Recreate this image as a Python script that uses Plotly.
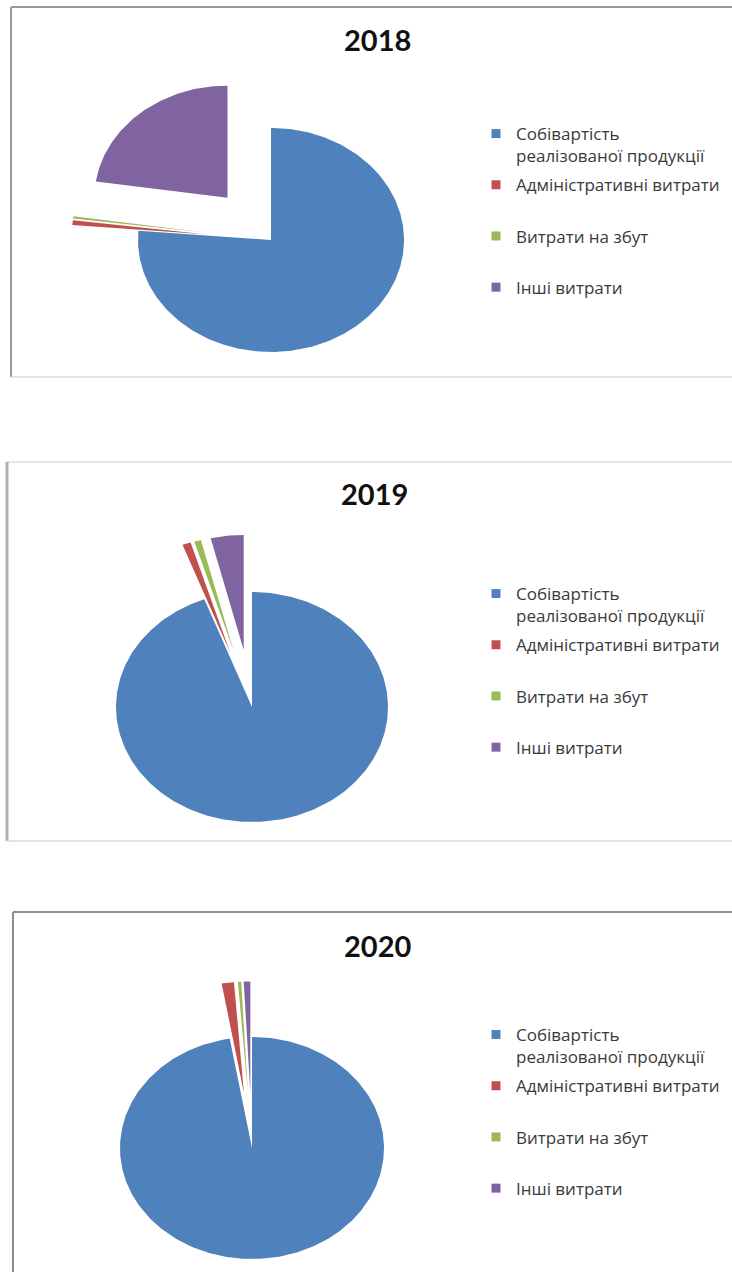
import numpy as np
import plotly.graph_objects as go

# ---- data -----------------------------------------------------------------
years = ["2018", "2019", "2020"]
categories = [
    "Собівартість реалізованої продукції",
    "Адміністративні витрати",
    "Витрати на збут",
    "Інші витрати",
]
# legend wording (the first entry wraps onto two lines)
legend_labels = [
    "Собівартість<br>реалізованої продукції",
    "Адміністративні витрати",
    "Витрати на збут",
    "Інші витрати",
]
# structure of expenses, % of total
shares_2018 = [76.3, 0.7, 0.3, 22.7]
shares_2019 = [94.3, 1.0, 0.8, 3.9]
shares_2020 = [97.3, 1.5, 0.4, 0.8]
shares_by_year = [shares_2018, shares_2019, shares_2020]

# ---- styling --------------------------------------------------------------
colors = ["#4F81BD", "#C0504D", "#9BBB59", "#8064A2"]
explode = [0.0, 0.5, 0.5, 0.5]          # fraction of the radius each slice is pulled out

W, H = 732, 1272

# per-chart geometry in pixels: ellipse centre and radii, vertical band,
# title centre and legend top
charts = [
    dict(cx=271, cy=240, rx=133, ry=112, band=(0, 425), title=(377, 40), legend_top=116, legend_x=476),
    dict(cx=252, cy=707, rx=136, ry=115, band=(445, 885), title=(375, 494), legend_top=576, legend_x=476),
    dict(cx=252, cy=1148, rx=132, ry=111, band=(895, 1272), title=(377, 945), legend_top=1017, legend_x=476),
]


def px_x(x):
    return x / W


def px_y(y):
    return 1 - y / H


def wedge(values, i, pull, n=360):
    """Outline of slice i of a pie on the unit circle, clockwise from 12 o'clock."""
    total = float(sum(values))
    start = sum(values[:i]) / total
    end = sum(values[: i + 1]) / total
    a0 = np.pi / 2 - 2 * np.pi * start
    a1 = np.pi / 2 - 2 * np.pi * end
    mid = (a0 + a1) / 2
    ox, oy = pull * np.cos(mid), pull * np.sin(mid)
    t = np.linspace(a0, a1, max(4, int(n * (end - start)) + 3))
    xs = np.concatenate([[ox], ox + np.cos(t), [ox]])
    ys = np.concatenate([[oy], oy + np.sin(t), [oy]])
    return xs, ys


fig = go.Figure()
layout = dict(
    width=W,
    height=H,
    margin=dict(l=0, r=0, t=0, b=0),
    paper_bgcolor="white",
    plot_bgcolor="white",
    showlegend=True,
    annotations=[],
    shapes=[],
)

for k, (year, shares, g) in enumerate(zip(years, shares_by_year, charts)):
    sfx = "" if k == 0 else str(k + 1)
    xa, ya = "x" + sfx, "y" + sfx
    leg = "legend" + sfx

    top, bot = g["band"]
    # axes scaled so that the unit circle becomes an rx x ry ellipse
    layout["xaxis" + sfx] = dict(
        domain=[0, 1], range=[-g["cx"] / g["rx"], (W - g["cx"]) / g["rx"]],
        visible=False, fixedrange=True, anchor=ya,
    )
    layout["yaxis" + sfx] = dict(
        domain=[px_y(bot), px_y(top)],
        range=[-(bot - g["cy"]) / g["ry"], (g["cy"] - top) / g["ry"]],
        visible=False, fixedrange=True, anchor=xa,
    )

    for i, (cat, col) in enumerate(zip(categories, colors)):
        xs, ys = wedge(shares, i, explode[i])
        fig.add_trace(go.Scatter(
            x=xs, y=ys, xaxis=xa, yaxis=ya,
            mode="lines", line=dict(width=0, color=col),
            fill="toself", fillcolor=col,
            name=cat, showlegend=False,
            hoveron="fills", hoverinfo="text",
            text=f"{cat}: {shares[i]:.1f}%",
        ))

    # legend entries with square swatches
    for i, (lab, col) in enumerate(zip(legend_labels, colors)):
        text = lab if "<br>" in lab else lab + "<br>\u00a0"
        fig.add_trace(go.Scatter(
            x=[None], y=[None], xaxis=xa, yaxis=ya,
            mode="markers", marker=dict(symbol="square", size=9, color=col),
            name=text, legend=leg, legendgroup=f"{year}-{i}",
            showlegend=True, hoverinfo="skip",
        ))

    layout[leg] = dict(
        x=px_x(g["legend_x"]), y=px_y(g["legend_top"]),
        xanchor="left", yanchor="top",
        bgcolor="rgba(0,0,0,0)", borderwidth=0,
        font=dict(family="Open Sans", size=17, color="#3a3a3a"),
        valign="top", traceorder="grouped", tracegroupgap=4,
        itemclick=False, itemdoubleclick=False,
    )

    tx, ty = g["title"]
    layout["annotations"].append(dict(
        text=year, x=px_x(tx), y=px_y(ty), xref="paper", yref="paper",
        xanchor="center", yanchor="middle", showarrow=False,
        font=dict(family="Lato", size=29, color="#111111", weight="bold"),
    ))

# chart-area frames
frame_lines = [
    # 2018
    (11, 7, W + 5, 7, "#9a9a9a", 2),
    (11, 7, 11, 377, "#9a9a9a", 2),
    (11, 377, W + 5, 377, "#d9d9d9", 1.5),
    # 2019
    (7, 462, W + 5, 462, "#dcdcdc", 1.5),
    (7, 462, 7, 841, "#b0b0b0", 3),
    (7, 841, W + 5, 841, "#d9d9d9", 1.5),
    # 2020
    (13, 912, W + 5, 912, "#8c8c8c", 2),
    (13, 912, 13, H + 5, "#8c8c8c", 2),
]
for x0, y0, x1, y1, col, w in frame_lines:
    layout["shapes"].append(dict(
        type="line", xref="paper", yref="paper",
        x0=px_x(x0), y0=px_y(y0), x1=px_x(x1), y1=px_y(y1),
        line=dict(color=col, width=w), layer="below",
    ))

fig.update_layout(**layout)
fig.write_html("out.html")
